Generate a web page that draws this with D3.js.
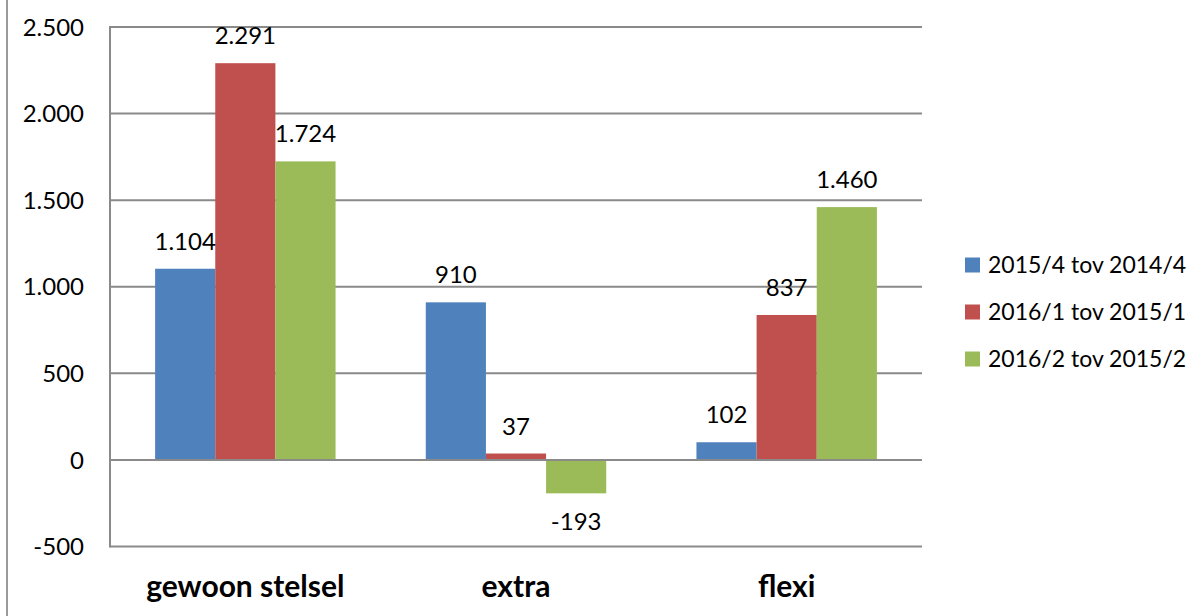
<!DOCTYPE html>
<html>
<head>
    <title>Verschil per stelsel</title>
    <script src="https://d3js.org/d3.v7.min.js"></script>
    <style>
        body, html {
            margin: 0;
            padding: 0;
            width: 100%;
            height: 100%;
            overflow: hidden;
            background: #fff;
        }

        svg {
            display: block;
        }

        text {
            font-family: Lato, "Open Sans", sans-serif;
            fill: #000;
        }

        .tick-label, .value-label {
            font-size: 24px;
        }

        .legend-text {
            font-size: 23px;
        }

        .category-label {
            font-size: 30px;
            font-weight: bold;
            text-anchor: middle;
        }
    </style>
</head>
<body>
    <svg id="chart"></svg>

    <script>
        // chart data
        const categories = ["gewoon stelsel", "extra", "flexi"];
        const seriesNames = ["2015/4 tov 2014/4", "2016/1 tov 2015/1", "2016/2 tov 2015/2"];
        const q4Values = [1104, 910, 102];
        const q1Values = [2291, 37, 837];
        const q2Values = [1724, -193, 1460];
        const yTicks = [-500, 0, 500, 1000, 1500, 2000, 2500];

        const seriesValues = [q4Values, q1Values, q2Values];
        const colors = ["#4F81BD", "#C0504D", "#9BBB59"];

        const width = 1204;
        const height = 616;
        const plot = { left: 110, right: 922, top: 27, bottom: 546.5 };

        // Dutch number format: 2.500, -193
        const nl = d3.formatLocale({ decimal: ",", thousands: ".", grouping: [3], currency: ["€", ""], minus: "-" });
        const fmt = nl.format(",d");

        const svg = d3.select("#chart")
            .attr("width", width)
            .attr("height", height);

        // left frame line of the chart area
        svg.append("line")
            .attr("x1", 7).attr("x2", 7)
            .attr("y1", 0).attr("y2", height)
            .attr("stroke", "#9a9a9a")
            .attr("stroke-width", 2);

        const y = d3.scaleLinear()
            .domain([d3.min(yTicks), d3.max(yTicks)])
            .range([plot.bottom, plot.top]);

        const x0 = d3.scaleBand()
            .domain(categories)
            .range([plot.left, plot.right]);

        const bw = x0.bandwidth();
        const x1 = d3.scaleBand()
            .domain(d3.range(seriesNames.length))
            .range([bw / 6, bw - bw / 6]);

        // gridlines
        svg.append("g")
            .selectAll("line")
            .data(yTicks)
            .enter().append("line")
            .attr("x1", plot.left)
            .attr("x2", plot.right)
            .attr("y1", d => y(d))
            .attr("y2", d => y(d))
            .attr("stroke", "#8a8a8a")
            .attr("stroke-width", 2);

        // tick labels
        svg.append("g")
            .selectAll("text")
            .data(yTicks)
            .enter().append("text")
            .attr("class", "tick-label")
            .attr("x", 84)
            .attr("y", d => y(d))
            .attr("dy", "0.36em")
            .attr("text-anchor", "end")
            .text(d => fmt(d));

        // bars
        const rows = [];
        categories.forEach((c, ci) => {
            seriesValues.forEach((vals, si) => {
                rows.push({ category: c, series: si, value: vals[ci] });
            });
        });

        svg.append("g")
            .selectAll("rect")
            .data(rows)
            .enter().append("rect")
            .attr("x", d => x0(d.category) + x1(d.series))
            .attr("width", x1.bandwidth())
            .attr("y", d => y(Math.max(0, d.value)))
            .attr("height", d => Math.abs(y(d.value) - y(0)))
            .attr("fill", d => colors[d.series]);

        // zero line and value axis on top of the bars
        svg.append("line")
            .attr("x1", plot.left).attr("x2", plot.right)
            .attr("y1", y(0)).attr("y2", y(0))
            .attr("stroke", "#8a8a8a")
            .attr("stroke-width", 2);

        svg.append("line")
            .attr("x1", plot.left).attr("x2", plot.left)
            .attr("y1", plot.top - 1).attr("y2", plot.bottom + 1)
            .attr("stroke", "#8a8a8a")
            .attr("stroke-width", 2);

        // value labels
        svg.append("g")
            .selectAll("text")
            .data(rows)
            .enter().append("text")
            .attr("class", "value-label")
            .attr("text-anchor", "middle")
            .attr("x", d => x0(d.category) + x1(d.series) + x1.bandwidth() / 2)
            .attr("y", d => d.value >= 0 ? y(d.value) - 19 : y(d.value) + 37)
            .text(d => fmt(d.value));

        // category labels
        svg.append("g")
            .selectAll("text")
            .data(categories)
            .enter().append("text")
            .attr("class", "category-label")
            .attr("x", d => x0(d) + bw / 2)
            .attr("y", 597)
            .text(d => d);

        // legend
        const legend = svg.append("g")
            .selectAll("g")
            .data(seriesNames)
            .enter().append("g")
            .attr("transform", (d, i) => `translate(965, ${265 + i * 47})`);

        legend.append("rect")
            .attr("x", 0)
            .attr("y", -7.5)
            .attr("width", 15)
            .attr("height", 15)
            .attr("fill", (d, i) => colors[i]);

        legend.append("text")
            .attr("class", "legend-text")
            .attr("x", 23)
            .attr("dy", "0.36em")
            .text(d => d);
    </script>
</body>
</html>
